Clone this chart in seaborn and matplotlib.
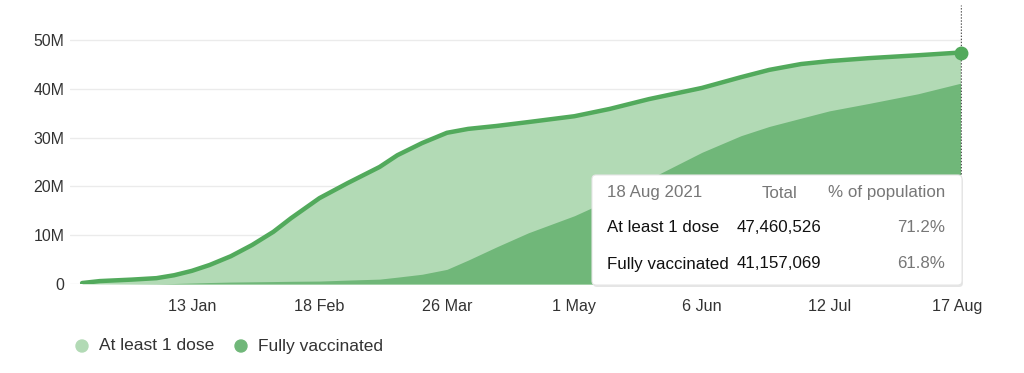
import pandas as pd
import matplotlib.pyplot as plt
import seaborn as sns
from matplotlib.patches import FancyBboxPatch, Circle
from matplotlib.transforms import IdentityTransform

# values (millions of people)
dates = ["2020-12-13", "2020-12-18", "2020-12-27", "2021-01-03", "2021-01-08", "2021-01-13",
         "2021-01-18", "2021-01-24", "2021-01-30", "2021-02-05", "2021-02-10", "2021-02-18",
         "2021-02-26", "2021-03-07", "2021-03-12", "2021-03-19", "2021-03-26", "2021-04-01",
         "2021-04-09", "2021-04-18", "2021-05-01", "2021-05-11", "2021-05-22", "2021-06-06",
         "2021-06-17", "2021-06-25", "2021-07-04", "2021-07-12", "2021-07-23", "2021-08-06",
         "2021-08-18"]
first_dose = [0.2, 0.6, 0.9, 1.2, 1.8, 2.7,
              3.9, 5.7, 8.0, 10.7, 13.5, 17.6,
              20.7, 24.0, 26.4, 28.9, 31.0, 31.8,
              32.4, 33.2, 34.4, 35.9, 37.9, 40.2,
              42.4, 43.9, 45.1, 45.7, 46.3, 46.9,
              47.46]
fully_vacc = [0.0, 0.0, 0.02, 0.05, 0.1, 0.2,
              0.3, 0.4, 0.45, 0.5, 0.55, 0.6,
              0.8, 1.0, 1.4, 2.0, 3.0, 4.9,
              7.6, 10.5, 14.0, 17.3, 21.5, 27.0,
              30.4, 32.3, 34.0, 35.5, 37.0, 39.0,
              41.16]
tick_dates = ["2021-01-13", "2021-02-18", "2021-03-26", "2021-05-01", "2021-06-06",
              "2021-07-12", "2021-08-17"]
tick_labels = ["13 Jan", "18 Feb", "26 Mar", "1 May", "6 Jun", "12 Jul", "17 Aug"]
y_ticks = [0, 10, 20, 30, 40, 50]
y_labels = ["0", "10M", "20M", "30M", "40M", "50M"]

df = pd.DataFrame({"date": pd.to_datetime(dates), "first": first_dose, "full": fully_vacc})

sns.set_style("white")
plt.rcParams["font.family"] = ["Liberation Sans", "DejaVu Sans"]

LIGHT = "#b2dab5"
DARK = "#70b779"
LINE = "#52aa5c"
TXT = "#333333"
GREY = "#777777"

fig = plt.figure(figsize=(10.24, 3.73), dpi=100)
ax = fig.add_axes([70 / 1024, (373 - 284) / 373, 892 / 1024, 279 / 373])

ax.fill_between(df["date"], 0, df["first"], color=LIGHT, lw=0, zorder=2)
ax.fill_between(df["date"], 0, df["full"], color=DARK, lw=0, zorder=3)
sns.lineplot(data=df, x="date", y="first", color=LINE, lw=3.2, ax=ax, zorder=4)
last = df.iloc[-1]
ax.plot([last["date"]], [last["first"]], "o", color=LINE, ms=9, zorder=6, clip_on=False)
ax.axvline(last["date"], color="#555555", lw=1, ls=(0, (1, 1.2)), zorder=5)

ax.set_xlim(pd.Timestamp("2020-12-09 14:00"), pd.Timestamp("2021-08-18 10:00"))
ax.set_ylim(0, 57.2)
ax.set_yticks(y_ticks)
ax.set_yticklabels(y_labels)
ax.set_xticks(pd.to_datetime(tick_dates))
ax.set_xticklabels(tick_labels)
ax.grid(axis="y", color="#ebebeb", lw=1, zorder=0)
ax.set_axisbelow(True)
for s in ax.spines.values():
    s.set_visible(False)
ax.tick_params(axis="y", length=0, pad=4, labelsize=11.4, labelcolor=TXT)
ax.tick_params(axis="x", length=8, width=1, color="#e3e3e3", pad=3, labelsize=11.6, labelcolor=TXT)
ax.set_xlabel("")
ax.set_ylabel("")

# tooltip box (pixel coordinates)
H = 373
box = FancyBboxPatch((592, H - 285), 370, 110, boxstyle="round,pad=0,rounding_size=4",
                     transform=IdentityTransform(), facecolor="white", edgecolor="#e6e6e6",
                     lw=0.8, zorder=10)
shadow = FancyBboxPatch((593, H - 287), 370, 110, boxstyle="round,pad=0,rounding_size=4",
                        transform=IdentityTransform(), facecolor="#cccccc", edgecolor="none",
                        alpha=0.5, zorder=9)
fig.add_artist(shadow)
fig.add_artist(box)

def px(x, y, s, size=12.2, **kw):
    fig.text(x / 1024, (H - y) / H, s, fontsize=size, va="center", zorder=11, **kw)

px(607, 193, "18 Aug 2021", color=GREY)
px(780, 193, "Total", color=GREY, ha="center")
px(945, 193, "% of population", color=GREY, ha="right")
px(607, 228, "At least 1 dose", color="#111111")
px(821, 228, "47,460,526", color="#111111", ha="right")
px(945, 228, "71.2%", color=GREY, ha="right")
px(607, 264, "Fully vaccinated", color="#111111")
px(821, 264, "41,157,069", color="#111111", ha="right")
px(945, 264, "61.8%", color=GREY, ha="right")

# legend below
for cx, lab, col in [(82, "At least 1 dose", LIGHT), (241, "Fully vaccinated", DARK)]:
    fig.add_artist(Circle((cx, H - 346), 6, transform=IdentityTransform(), color=col))
    px(cx + 17, 346, lab, size=12.5, color=TXT)

fig.savefig("out.png", dpi=100)
